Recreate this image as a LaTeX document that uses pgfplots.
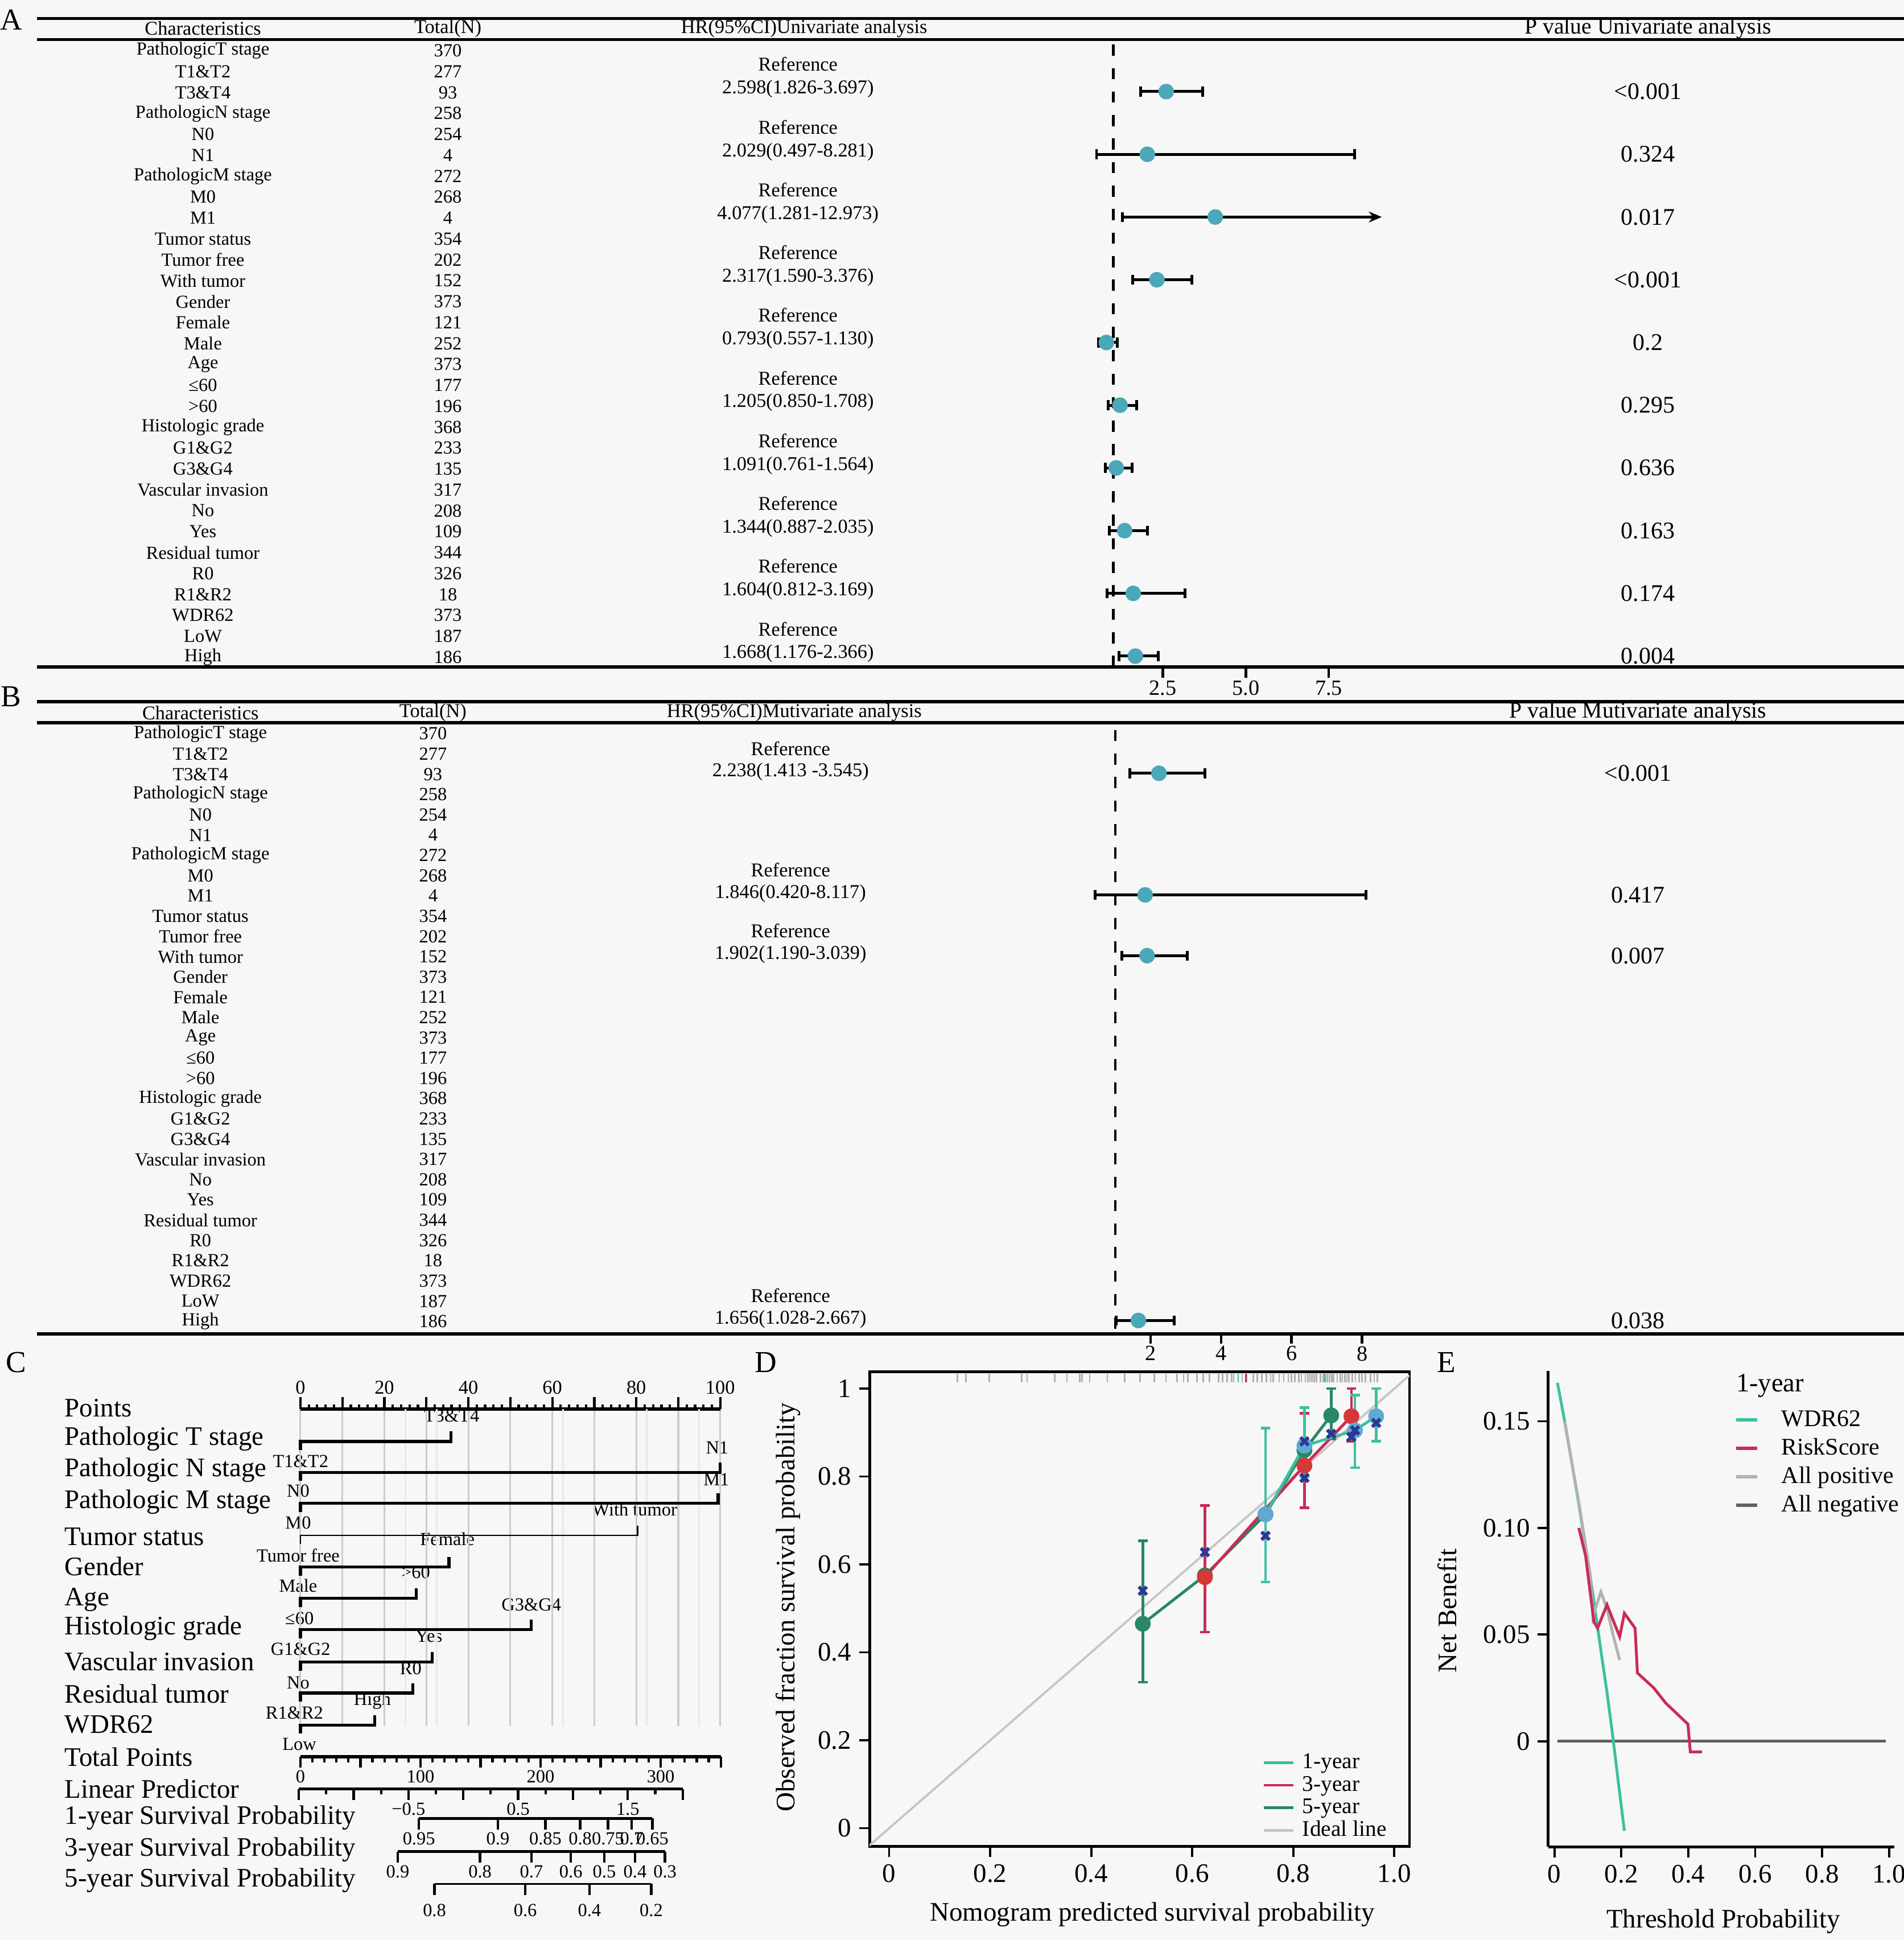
\documentclass[border=0pt]{standalone}
\usepackage{fontspec}
\setmainfont{Liberation Serif}
\usepackage{pgfplots}
\usepackage{pgfplotstable}
\pgfplotsset{compat=1.18}
\usetikzlibrary{arrows.meta}

\definecolor{bg}{RGB}{247,247,247}
\definecolor{fmark}{RGB}{74,168,184}
\definecolor{oneyr}{RGB}{60,192,160}
\definecolor{threeyr}{RGB}{200,45,85}
\definecolor{fiveyr}{RGB}{40,135,100}
\definecolor{xnavy}{RGB}{45,55,150}
\definecolor{redpt}{RGB}{215,55,55}
\definecolor{ltblue}{RGB}{95,170,210}

\newcommand\fA{\fontsize{8.5}{10}\selectfont}
\newcommand\fB{\fontsize{9}{10}\selectfont}
\newcommand\fP{\fontsize{11}{12}\selectfont}
\newcommand\fH{\fontsize{9}{10}\selectfont}
\newcommand\fHP{\fontsize{10.4}{11}\selectfont}
\newcommand\fT{\fontsize{10}{11}\selectfont}
\newcommand\fL{\fontsize{14}{15}\selectfont}
\newcommand\fNL{\fontsize{12.3}{13}\selectfont}
\newcommand\fN{\fontsize{8.5}{9}\selectfont}
\newcommand\fD{\fontsize{12.3}{13}\selectfont}
\newcommand\fDleg{\fontsize{10.3}{11}\selectfont}
\newcommand\fEleg{\fontsize{11}{12}\selectfont}

\pgfplotsset{
  txt/.style={draw=none, nodes near coords, point meta=explicit symbolic,
    nodes near coords align={center},
    every node near coord/.append style={font=#1, inner sep=0pt, text=black}},
  txtw/.style={draw=none, nodes near coords, point meta=explicit symbolic,
    nodes near coords align={west},
    every node near coord/.append style={font=#1, inner sep=0pt, text=black}},
  nscale/.style={anchor=south west, scale only axis, height=0.1cm, ymin=0, ymax=1,
    axis x line=bottom, axis y line=none, axis line style={-, line width=1.4pt},
    tick align=outside, tick style={black, line width=1.1pt}, major tick length=0.18cm,
    xticklabel style={font=\fN, inner sep=1pt}},
  var/.style={black, line width=1.4pt},
}

% characteristics column (shared by A and B)
\pgfplotstableread[col sep=comma]{
row,name,n
1,PathologicT stage,370
2,T1\&T2,277
3,T3\&T4,93
4,PathologicN stage,258
5,N0,254
6,N1,4
7,PathologicM stage,272
8,M0,268
9,M1,4
10,Tumor status,354
11,Tumor free,202
12,With tumor,152
13,Gender,373
14,Female,121
15,Male,252
16,Age,373
17,≤60,177
18,>60,196
19,Histologic grade,368
20,G1\&G2,233
21,G3\&G4,135
22,Vascular invasion,317
23,No,208
24,Yes,109
25,Residual tumor,344
26,R0,326
27,R1\&R2,18
28,WDR62,373
29,LoW,187
30,High,186
}\chars

% univariate
\pgfplotstableread[col sep=comma]{
g,hr,lo,hi,ci,p
1,2.598,1.826,3.697,2.598(1.826-3.697),<0.001
2,2.029,0.497,8.281,2.029(0.497-8.281),0.324
3,4.077,1.281,12.973,4.077(1.281-12.973),0.017
4,2.317,1.590,3.376,2.317(1.590-3.376),<0.001
5,0.793,0.557,1.130,0.793(0.557-1.130),0.2
6,1.205,0.850,1.708,1.205(0.850-1.708),0.295
7,1.091,0.761,1.564,1.091(0.761-1.564),0.636
8,1.344,0.887,2.035,1.344(0.887-2.035),0.163
9,1.604,0.812,3.169,1.604(0.812-3.169),0.174
10,1.668,1.176,2.366,1.668(1.176-2.366),0.004
}\uniA

% multivariate
\pgfplotstableread[col sep=comma]{
g,hr,lo,hi,ci,p
1,2.238,1.413,3.545,2.238(1.413 -3.545),<0.001
3,1.846,0.420,8.117,1.846(0.420-8.117),0.417
4,1.902,1.190,3.039,1.902(1.190-3.039),0.007
10,1.656,1.028,2.667,1.656(1.028-2.667),0.038
}\multiB

\pgfplotstableread[col sep=comma]{
y,lab
1138,Points
1163,Pathologic T stage
1188,Pathologic N stage
1214,Pathologic M stage
1242,Tumor status
1266,Gender
1293,Age
1316,Histologic grade
1343,Vascular invasion
1369,Residual tumor
1394,WDR62
1420,Total Points
1446,Linear Predictor
1469,1-year Survival Probability
1495,3-year Survival Probability
1520,5-year Survival Probability
}\nomorows

\pgfplotstableread[col sep=comma]{
x,y,lab
365,1144.5,T3\&T4
243,1181,T1\&T2
579.7,1170,N1
241,1205,N0
579,1196,M1
241,1231,M0
513,1220,With tumor
241,1257,Tumor free
361.6,1244,Female
241,1281.8,Male
336,1271,>60
242,1308,≤60
429.5,1297,G3\&G4
243,1333,G1\&G2
346.6,1322.5,Yes
241,1360,No
332,1348.5,R0
238,1384.5,R1\&R2
301,1374.5,High
242,1409.8,Low
}\nomocats

% calibration
\pgfplotstableread{
x y lo hi
0.745 0.714 0.560 0.910
0.822 0.870 0.800 0.957
0.922 0.905 0.820 0.985
0.964 0.937 0.880 1.000
}\calA
\pgfplotstableread{
x y lo hi
0.625 0.571 0.446 0.734
0.822 0.825 0.729 0.944
0.915 0.937 0.880 1.000
}\calC
\pgfplotstableread{
x y lo hi
0.502 0.465 0.332 0.654
0.625 0.575 0.575 0.575
0.745 0.714 0.714 0.714
0.822 0.860 0.860 0.860
0.875 0.939 0.885 1.000
}\calE

\begin{document}
\begin{tikzpicture}
% 1 reference px = 0.02 cm; positions below are px*0.02cm, y downwards
\path[use as bounding box, fill=bg] (0cm,0cm) rectangle (30.78cm,-31.36cm);

%% ---------- canvas: rules and text ----------
\begin{axis}[at={(0cm,-31.36cm)}, anchor=south west, scale only axis, width=30.78cm, height=31.36cm,
  xmin=0, xmax=1539, ymin=-1568, ymax=0, hide axis, clip=false]
\addplot[black, line width=1.5pt] coordinates {(30,-15) (1539,-15)};
\addplot[black, line width=1.5pt] coordinates {(30,-32) (1539,-32)};
\addplot[black, line width=1.5pt] coordinates {(30,-567) (1539,-567)};
\addplot[black, line width=1.5pt] coordinates {(30,-584) (1539,-584)};

\node[font=\fH] at (164,-23) {Characteristics};
\node[font=\fH] at (362,-23) {Total(N)};
\node[font=\fH] at (650,-23) {HR(95\%CI)Univariate analysis};
\node[font=\fHP] at (1332,-23) {P value Univariate analysis};
\node[font=\fH] at (162,-576) {Characteristics};
\node[font=\fH] at (350,-576) {Total(N)};
\node[font=\fH] at (642,-576) {HR(95\%CI)Mutivariate analysis};
\node[font=\fHP] at (1324,-576) {P value Mutivariate analysis};

\node[font=\fL] at (9,-16) {A};
\node[font=\fL] at (9,-563) {B};
\node[font=\fL] at (13,-1101) {C};
\node[font=\fL] at (619,-1101) {D};
\node[font=\fL] at (1169,-1101) {E};
\node[font=\fontsize{12.2}{13}\selectfont, anchor=west, inner sep=0pt] at (1403,-1120) {1-year};

% table A
\addplot[txt=\fA] table[x expr=164, y expr={-(41+16.9*(\thisrow{row}-1))}, meta=name] {\chars};
\addplot[txt=\fA] table[x expr=362, y expr={-(41+16.9*(\thisrow{row}-1))}, meta=n] {\chars};
\addplot[draw=none, nodes near coords={Reference}, nodes near coords align={center},
  every node near coord/.append style={font=\fB, inner sep=0pt}]
  table[x expr=645, y expr={-(74+50.7*(\thisrow{g}-1)-22)}] {\uniA};
\addplot[txt=\fB] table[x expr=645, y expr={-(74+50.7*(\thisrow{g}-1)-2)}, meta=ci] {\uniA};
\addplot[txt=\fP] table[x expr=1332, y expr={-(74+50.7*(\thisrow{g}-1))}, meta=p] {\uniA};

% table B
\addplot[txt=\fA] table[x expr=162, y expr={-(593+16.38*(\thisrow{row}-1))}, meta=name] {\chars};
\addplot[txt=\fA] table[x expr=350, y expr={-(593+16.38*(\thisrow{row}-1))}, meta=n] {\chars};
\addplot[draw=none, nodes near coords={Reference}, nodes near coords align={center},
  every node near coord/.append style={font=\fB, inner sep=0pt}]
  table[x expr=639, y expr={-(625+49.14*(\thisrow{g}-1)-20)}] {\multiB};
\addplot[txt=\fB] table[x expr=639, y expr={-(625+49.14*(\thisrow{g}-1)-1)}, meta=ci] {\multiB};
\addplot[txt=\fP] table[x expr=1324, y expr={-(625+49.14*(\thisrow{g}-1))}, meta=p] {\multiB};

% nomogram labels
\addplot[txtw=\fNL] table[x expr=52, y expr=-\thisrow{y}, meta=lab] {\nomorows};
\addplot[txt=\fN] table[x=x, y expr=-\thisrow{y}, meta=lab] {\nomocats};
\end{axis}

%% ---------- A forest ----------
\begin{axis}[at={(0.6cm,-10.78cm)}, anchor=south west, scale only axis, width=30.18cm, height=10.14cm,
  xmin=-31.455, xmax=24.85, ymin=-539, ymax=-32,
  axis x line=bottom, axis y line=none, axis line style={-, line width=1.5pt},
  xtick={2.5,5,7.5}, xticklabels={2.5,5.0,7.5}, tick align=outside, major tick length=0.18cm,
  tick style={black, line width=1.2pt}, xticklabel style={font=\fT, inner sep=1pt}, clip=false]
\addplot[black, line width=1.2pt, dash pattern=on 0.18cm off 0.2cm] coordinates {(1,-36) (1,-539)};
\addplot[only marks, mark=*, mark size=3.4pt, mark options={draw=fmark, fill=fmark},
  skip coords between index={2}{3},
  error bars/.cd, x dir=both, x explicit, error bar style={black, line width=1.3pt},
  error mark options={rotate=90, black, mark size=2.3pt, line width=1.3pt}]
  table[x=hr, y expr={-(74+50.7*(\thisrow{g}-1))},
    x error plus expr={\thisrow{hi}-\thisrow{hr}}, x error minus expr={\thisrow{hr}-\thisrow{lo}}] {\uniA};
% M1: upper limit runs past the panel, drawn with an arrow
\addplot[black, line width=1.3pt, -{Stealth[length=6pt,width=5pt]}] coordinates {(1.281,-175.4) (9.1,-175.4)};
\addplot[black, line width=1.3pt] coordinates {(1.281,-171.4) (1.281,-179.4)};
\addplot[only marks, mark=*, mark size=3.4pt, mark options={draw=fmark, fill=fmark}] coordinates {(4.077,-175.4)};
\end{axis}

%% ---------- B forest ----------
\begin{axis}[at={(0.6cm,-21.56cm)}, anchor=south west, scale only axis, width=30.18cm, height=9.88cm,
  xmin=-29.58, xmax=23.37, ymin=-1078, ymax=-584,
  axis x line=bottom, axis y line=none, axis line style={-, line width=1.5pt},
  xtick={2,4,6,8}, xticklabels={2,4,6,8}, tick align=outside, major tick length=0.16cm,
  tick style={black, line width=1.2pt}, xticklabel style={font=\fT, inner sep=1pt}, clip=false]
\addplot[black, line width=1.2pt, dash pattern=on 0.18cm off 0.2cm] coordinates {(1,-590) (1,-1078)};
\addplot[only marks, mark=*, mark size=3.4pt, mark options={draw=fmark, fill=fmark},
  error bars/.cd, x dir=both, x explicit, error bar style={black, line width=1.3pt},
  error mark options={rotate=90, black, mark size=2.3pt, line width=1.3pt}]
  table[x=hr, y expr={-(625+49.14*(\thisrow{g}-1))},
    x error plus expr={\thisrow{hi}-\thisrow{hr}}, x error minus expr={\thisrow{hr}-\thisrow{lo}}] {\multiB};
\end{axis}

%% ---------- C nomogram ----------
\begin{axis}[at={(4.856cm,-27.9cm)}, anchor=south west, scale only axis, width=6.788cm, height=5.12cm,
  xmin=0, xmax=100, ymin=-1395, ymax=-1139,
  axis x line=top, axis y line=none, axis line style={-, line width=1.6pt},
  xtick={0,10,...,100}, xticklabels={0,,20,,40,,60,,80,,100}, minor xtick={0,2,...,100},
  tick align=outside, major tick length=0.2cm, minor tick length=0.08cm,
  tick style={black, line width=1.1pt},
  xmajorgrids, major grid style={gray!40, line width=0.8pt},
  extra x ticks={25,32.5,62.5,82.5,95}, extra x tick labels={},
  extra x tick style={major tick length=0pt, major grid style={gray!18, line width=0.8pt}},
  xticklabel style={font=\fontsize{9}{10}\selectfont, inner sep=1pt}, clip=false]
\addplot[var] coordinates {(0,-1172) (0,-1165) (35.9,-1165) (35.9,-1157)};
\addplot[var] coordinates {(0,-1197) (0,-1190) (100,-1190) (100,-1182)};
\addplot[var] coordinates {(0,-1222) (0,-1215) (99.5,-1215) (99.5,-1207)};
\addplot[black, line width=0.6pt] coordinates {(0,-1248) (0,-1241) (80.3,-1241) (80.3,-1233)};
\addplot[var] coordinates {(0,-1273.5) (0,-1266.5) (35.4,-1266.5) (35.4,-1258.5)};
\addplot[var] coordinates {(0,-1298.7) (0,-1291.7) (27.6,-1291.7) (27.6,-1283.7)};
\addplot[var] coordinates {(0,-1324) (0,-1317) (55,-1317) (55,-1309)};
\addplot[var] coordinates {(0,-1350.2) (0,-1343.2) (31.4,-1343.2) (31.4,-1335.2)};
\addplot[var] coordinates {(0,-1375.4) (0,-1368.4) (26.8,-1368.4) (26.8,-1360.4)};
\addplot[var] coordinates {(0,-1401.2) (0,-1394.2) (17.7,-1394.2) (17.7,-1386.2)};
\end{axis}

% Total points
\begin{axis}[nscale, at={(4.856cm,-28.396cm)}, width=6.796cm, xmin=0, xmax=350,
  xtick={0,50,...,350}, xticklabels={0,,100,,200,,300,}, minor xtick={0,10,...,350},
  minor tick length=0.09cm]
\end{axis}
% Linear predictor
\begin{axis}[nscale, at={(4.83cm,-28.918cm)}, width=6.206cm, xmin=-1.5, xmax=2,
  xtick={-1.5,-1,...,2}, xticklabels={,,−0.5,,0.5,,1.5,}, minor xtick={-1.25,-0.75,...,1.75},
  minor tick length=0.09cm]
\end{axis}
% 1-year survival
\begin{axis}[nscale, at={(6.772cm,-29.394cm)}, width=3.774cm, xmin=-0.405, xmax=1.723,
  xtick={-0.405,0.315,0.748,1.065,1.319,1.534,1.723},
  xticklabels={0.95,0.9,0.85,0.8,0.75,0.7,0.65}]
\end{axis}
% 3-year survival
\begin{axis}[nscale, at={(6.43cm,-29.93cm)}, width=4.32cm, xmin=-0.598, xmax=1.838,
  xtick={-0.598,0.152,0.621,0.980,1.285,1.565,1.838},
  xticklabels={0.9,0.8,0.7,0.6,0.5,0.4,0.3}]
\end{axis}
% 5-year survival
\begin{axis}[nscale, at={(7.024cm,-30.45cm)}, width=3.504cm, xmin=-0.263, xmax=1.713,
  axis line style={-, line width=0.8pt},
  xtick={-0.263,0.565,1.150,1.713}, xticklabels={0.8,0.6,0.4,0.2},
  xticklabel style={yshift=-3pt}]
\end{axis}

%% ---------- D calibration ----------
\begin{axis}[at={(14.058cm,-29.844cm)}, anchor=south west, scale only axis, width=8.728cm, height=7.668cm,
  xmin=-0.0387, xmax=1.030, ymin=-0.041, ymax=1.038,
  axis line style={line width=1.3pt}, tick pos=left, tick align=outside, major tick length=0.17cm,
  tick style={black, line width=1pt},
  xtick={0,0.2,0.4,0.6,0.8,1}, xticklabels={0,0.2,0.4,0.6,0.8,1.0},
  ytick={0,0.2,0.4,0.6,0.8,1}, yticklabels={0,0.2,0.4,0.6,0.8,1},
  ticklabel style={font=\fD},
  xlabel={Nomogram predicted survival probability}, ylabel={Observed fraction survival probability},
  label style={font=\fD},
  xlabel style={at={(axis description cs:0.524,-0.1435)}, anchor=center},
  ylabel style={at={(axis description cs:-0.151,0.504)}, anchor=center},
  legend style={at={(0.727,0.205)}, anchor=north west, draw=none, fill=none, font=\fDleg,
    inner sep=0pt, row sep=-2pt, /tikz/every odd column/.append style={column sep=0.05cm}},
  legend cell align=left,
  legend image code/.code={\draw[#1] (0cm,0cm) -- (0.48cm,0cm);}]
\addlegendimage{oneyr, line width=1.3pt}\addlegendentry{1-year}
\addlegendimage{threeyr, line width=1.3pt}\addlegendentry{3-year}
\addlegendimage{fiveyr, line width=1.3pt}\addlegendentry{5-year}
\addlegendimage{gray!45, line width=1.3pt}\addlegendentry{Ideal line}
\addplot[gray!45, line width=1pt, forget plot] coordinates {(-0.04,-0.04) (1.03,1.03)};
% rug of predicted probabilities along the top
\addplot[only marks, mark=|, mark size=2pt, gray!62, mark options={line width=0.7pt}, forget plot] coordinates {
  (0.135,1.024) (0.152,1.024) (0.198,1.024) (0.262,1.024) (0.273,1.024) (0.328,1.024)
  (0.352,1.024) (0.377,1.024) (0.382,1.024) (0.397,1.024) (0.432,1.024) (0.466,1.024)
  (0.497,1.024) (0.525,1.024) (0.548,1.024) (0.570,1.024) (0.583,1.024) (0.591,1.024)
  (0.609,1.024) (0.622,1.024) (0.634,1.024) (0.652,1.024) (0.660,1.024) (0.669,1.024)
  (0.678,1.024) (0.682,1.024) (0.699,1.024) (0.708,1.024) (0.721,1.024) (0.729,1.024)
  (0.738,1.024) (0.747,1.024) (0.755,1.024) (0.760,1.024) (0.772,1.024) (0.781,1.024)
  (0.790,1.024) (0.796,1.024) (0.803,1.024) (0.811,1.024) (0.816,1.024) (0.824,1.024)
  (0.829,1.024) (0.833,1.024) (0.837,1.024) (0.841,1.024) (0.846,1.024) (0.854,1.024)
  (0.859,1.024) (0.867,1.024) (0.872,1.024) (0.876,1.024) (0.880,1.024) (0.887,1.024)
  (0.893,1.024) (0.897,1.024) (0.902,1.024) (0.906,1.024) (0.910,1.024) (0.917,1.024)
  (0.923,1.024) (0.930,1.024) (0.936,1.024) (0.943,1.024) (0.953,1.024) (0.960,1.024)
  (0.966,1.024)};
\addplot[only marks, mark=|, mark size=2pt, threeyr, mark options={line width=0.7pt}, forget plot] coordinates {(0.706,1.024)};
\addplot[only marks, mark=|, mark size=2pt, oneyr, mark options={line width=0.7pt}, forget plot] coordinates {(0.691,1.024) (0.863,1.024)};
\addplot[fiveyr, line width=1.3pt, mark=*, mark size=3pt, mark options={fill=fiveyr, draw=fiveyr}, forget plot,
  error bars/.cd, y dir=both, y explicit, error bar style={line width=1.2pt},
  error mark options={rotate=90, fiveyr, mark size=2.2pt, line width=1.2pt}]
  table[x=x, y=y, y error plus expr=\thisrow{hi}-\thisrow{y}, y error minus expr=\thisrow{y}-\thisrow{lo}] {\calE};
\addplot[threeyr, line width=1.3pt, mark=*, mark size=3pt, mark options={fill=redpt, draw=redpt}, forget plot,
  error bars/.cd, y dir=both, y explicit, error bar style={line width=1.2pt},
  error mark options={rotate=90, threeyr, mark size=2.2pt, line width=1.2pt}]
  table[x=x, y=y, y error plus expr=\thisrow{hi}-\thisrow{y}, y error minus expr=\thisrow{y}-\thisrow{lo}] {\calC};
\addplot[oneyr, line width=1.3pt, mark=*, mark size=3pt, mark options={fill=ltblue, draw=ltblue}, forget plot,
  error bars/.cd, y dir=both, y explicit, error bar style={line width=1.2pt},
  error mark options={rotate=90, oneyr, mark size=2.2pt, line width=1.2pt}]
  table[x=x, y=y, y error plus expr=\thisrow{hi}-\thisrow{y}, y error minus expr=\thisrow{y}-\thisrow{lo}] {\calA};
\addplot[only marks, mark=x, mark size=2.6pt, xnavy, line width=1.6pt, forget plot] coordinates {
  (0.502,0.540) (0.625,0.628) (0.745,0.665) (0.822,0.797) (0.822,0.880)
  (0.875,0.897) (0.915,0.890) (0.922,0.905) (0.964,0.922)};
\end{axis}

%% ---------- E decision curve ----------
\begin{axis}[at={(25.026cm,-29.854cm)}, anchor=south west, scale only axis, width=5.594cm, height=7.694cm,
  xmin=-0.019, xmax=1.015, ymin=-0.0495, ymax=0.1736,
  axis x line=bottom, axis y line=left, axis line style={-, line width=1.3pt},
  tick align=outside, major tick length=0.17cm, tick style={black, line width=1pt},
  xtick={0,0.2,0.4,0.6,0.8,1}, xticklabels={0,0.2,0.4,0.6,0.8,1.0},
  ytick={0,0.05,0.10,0.15}, yticklabels={0,0.05,0.10,0.15},
  ticklabel style={font=\fD},
  xlabel={Threshold Probability}, ylabel={Net Benefit}, label style={font=\fD},
  xlabel style={at={(axis description cs:0.507,-0.157)}, anchor=center},
  ylabel style={at={(axis description cs:-0.291,0.496)}, anchor=center},
  legend style={at={(0.537,0.927)}, anchor=north west, draw=none, fill=none, font=\fEleg,
    inner sep=0pt, row sep=0pt, /tikz/every odd column/.append style={column sep=0.3cm}},
  legend cell align=left,
  legend image code/.code={\draw[#1] (0cm,0cm) -- (0.34cm,0cm);}]
\addlegendimage{oneyr, line width=1.5pt}\addlegendentry{WDR62}
\addlegendimage{threeyr, line width=1.5pt}\addlegendentry{RiskScore}
\addlegendimage{gray!60, line width=1.5pt}\addlegendentry{All positive}
\addlegendimage{black!62, line width=1.5pt}\addlegendentry{All negative}
\addplot[black!62, line width=1.2pt, forget plot] coordinates {(0.009,0) (0.990,0)};
\addplot[oneyr, line width=1.3pt, forget plot] coordinates {
  (0.009,0.168) (0.033,0.148) (0.073,0.111) (0.111,0.073) (0.143,0.038)
  (0.157,0.023) (0.173,0.004) (0.190,-0.018) (0.209,-0.042)};
\addplot[gray!60, line width=1.3pt, forget plot] coordinates {
  (0.030,0.150) (0.073,0.112) (0.108,0.077) (0.115,0.058) (0.124,0.063)
  (0.139,0.070) (0.157,0.062) (0.175,0.050) (0.195,0.038)};
\addplot[threeyr, line width=1.3pt, forget plot] coordinates {
  (0.073,0.100) (0.093,0.087) (0.118,0.056) (0.129,0.053) (0.157,0.064)
  (0.195,0.049) (0.209,0.060) (0.241,0.053) (0.248,0.032) (0.297,0.025)
  (0.332,0.018) (0.399,0.008) (0.406,-0.005) (0.441,-0.005)};
\end{axis}
\end{tikzpicture}
\end{document}
